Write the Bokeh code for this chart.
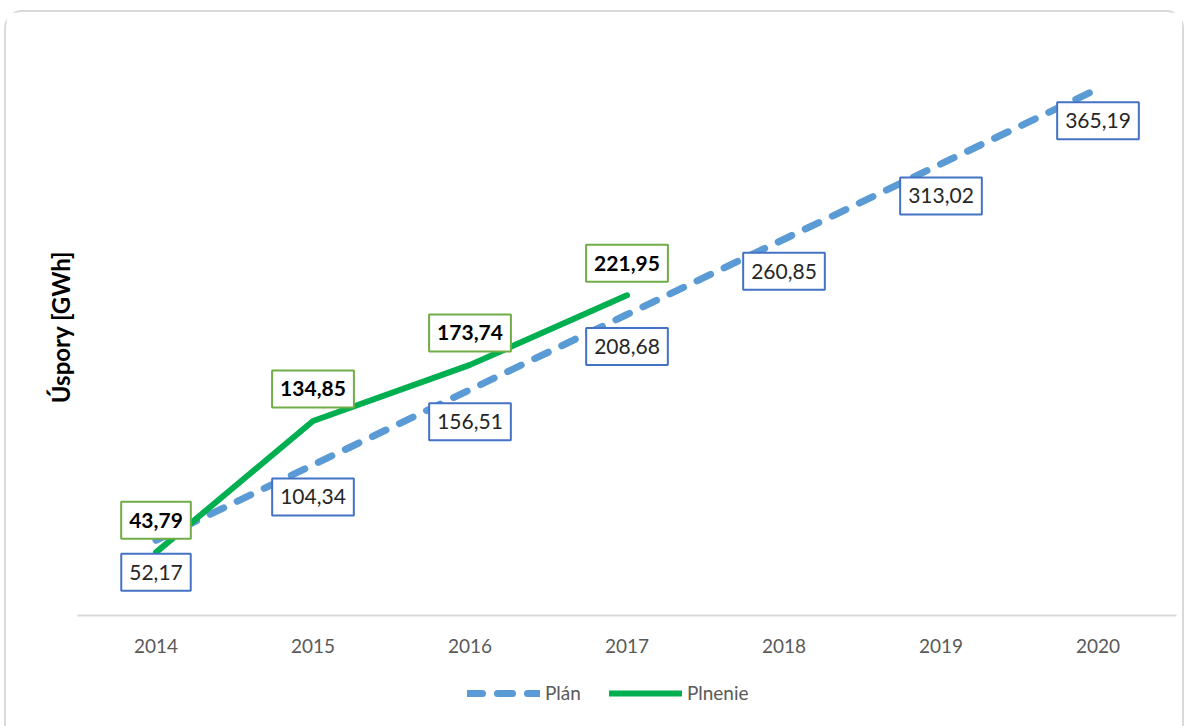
from bokeh.plotting import figure
from bokeh.layouts import column
from bokeh.models import (ColumnDataSource, FactorRange, Range1d, Legend, LegendItem)
from bokeh.core.properties import value
from bokeh.embed import file_html
from bokeh.resources import INLINE

# ---- data ----
years = ["2014", "2015", "2016", "2017", "2018", "2019", "2020"]
plan = [52.17, 104.34, 156.51, 208.68, 260.85, 313.02, 365.19]
plnenie_years = ["2014", "2015", "2016", "2017"]
plnenie = [43.79, 134.85, 173.74, 221.95]
y_title = "Úspory [GWh]"
series_names = ["Plán", "Plnenie"]


def fmt(v):
    return f"{v:.2f}".replace(".", ",")


src_plan = ColumnDataSource(dict(x=years, y=plan, lbl=[fmt(v) for v in plan]))
src_pl = ColumnDataSource(dict(x=plnenie_years, y=plnenie, lbl=[fmt(v) for v in plnenie]))

FONT = "Lato"
PLAN_STYLE = dict(line_color="#5B9BD5", line_width=7, line_dash="15 15", line_cap="round")
PL_STYLE = dict(line_color="#00B050", line_width=6, line_cap="round", line_join="round")

p = figure(width=1176, height=670,
           x_range=FactorRange(factors=years, range_padding=0),
           y_range=Range1d(0, 400),
           output_backend="svg", toolbar_location=None,
           min_border_left=71, min_border_right=6,
           min_border_top=26, min_border_bottom=67)

p.outline_line_color = None
p.xgrid.visible = False
p.ygrid.visible = False
p.background_fill_color = "white"
p.border_fill_color = "white"

yax = p.yaxis[0]
yax.ticker = []
yax.axis_line_color = None
yax.major_tick_line_color = None
yax.minor_tick_line_color = None
yax.major_tick_out = 0
yax.major_label_standoff = 0
yax.axis_label = y_title
yax.axis_label_standoff = 3
yax.axis_label_text_font = FONT
yax.axis_label_text_font_size = "24px"
yax.axis_label_text_font_style = "bold"
yax.axis_label_text_color = "black"

ax = p.xaxis[0]
ax.axis_line_color = "#d9d9d9"
ax.axis_line_width = 2
ax.major_tick_line_color = None
ax.minor_tick_line_color = None
ax.major_tick_out = 0
ax.major_label_standoff = 23
ax.major_label_text_font = FONT
ax.major_label_text_font_size = "19px"
ax.major_label_text_color = "#595959"

p.line("x", "y", source=src_plan, **PLAN_STYLE)
p.line("x", "y", source=src_pl, **PL_STYLE)

pad = dict(left=8, right=8, top=11, bottom=11)
p.text("x", "y", text="lbl", source=src_plan, y_offset=32,
       text_align="center", text_baseline="middle",
       text_font=value(FONT), text_font_size="21px", text_color="#262626",
       background_fill_color="white", border_line_color="#4472C4",
       border_line_width=2, padding=pad)
p.text("x", "y", text="lbl", source=src_pl, y_offset=-32,
       text_align="center", text_baseline="middle",
       text_font=value(FONT), text_font_size="21px", text_font_style="bold",
       text_color="black",
       background_fill_color="white", border_line_color="#70AD47",
       border_line_width=2, padding=pad)

# ---- legend strip (same series, drawn out of view; only the legend shows) ----
leg = figure(width=1176, height=44,
             x_range=FactorRange(factors=years, range_padding=0),
             y_range=Range1d(1000, 1001),
             x_axis_type=None, y_axis_type=None,
             output_backend="svg", toolbar_location=None, min_border=0)
leg.outline_line_color = None
leg.xgrid.visible = False
leg.ygrid.visible = False
lr_plan = leg.line("x", "y", source=src_plan, **PLAN_STYLE)
lr_pl = leg.line("x", "y", source=src_pl, **PL_STYLE)

legend = Legend(items=[LegendItem(label=series_names[0], renderers=[lr_plan]),
                       LegendItem(label=series_names[1], renderers=[lr_pl])],
                orientation="horizontal", location=(390, 22),
                glyph_width=73, glyph_height=20, label_height=20,
                label_standoff=5, spacing=28, padding=0, margin=0,
                border_line_color=None, background_fill_alpha=0,
                label_text_font=FONT, label_text_font_size="19px",
                label_text_color="#595959")
leg.add_layout(legend, "center")

layout = column(p, leg, spacing=0,
                styles={"margin-left": "4px", "margin-top": "10px",
                        "border": "2px solid #d9d9d9", "border-bottom": "none",
                        "border-radius": "18px 18px 0 0"})

open("out.html", "w").write(file_html(layout, INLINE))
